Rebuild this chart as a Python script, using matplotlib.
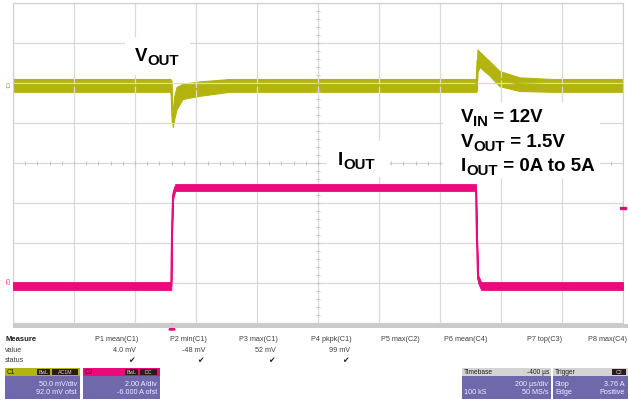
import matplotlib
matplotlib.use('Agg')
import matplotlib.pyplot as plt
from matplotlib.patches import Rectangle, Polygon
import numpy as np

plt.rcParams['font.family'] = ['Liberation Sans', 'DejaVu Sans']

W, H = 628, 402

# ---- scope settings ----
ch1_scale, ch1_ofst = 50.0, 92.0      # mV/div, mV
ch2_scale, ch2_ofst = 2.00, -6.000    # A/div, A
tb_scale = 200.0                      # us/div
t_left = -520.0                       # time at left edge of the grid (us)

# ---- Vout trace (envelope of the noisy band), time in us, mV ----
t_vout = [-520, -4, 0, 2, 4, 8, 16, 36, 92, 190, 400, 999, 1001, 1003, 1010, 1043, 1075, 1141, 1250, 1480]
vout_hi = [13, 13, 10, -20, -35, -10, 3, 7, 10, 13, 13, 13, 30, 50, 47, 35, 23, 15, 13, 13]
vout_lo = [-3, -3, -10, -40, -47, -38, -25, -12, -8, -3, -3, -3, 0, 22, 28, 17, 4, -2, -3, -3]

# ---- Iout trace, time in us, A ----
t_iout = [-520, -1, 2, 5, 12, 998, 1001, 1005, 1015, 1480]
iout_hi = [0.05, 0.05, 3.2, 4.6, 4.95, 4.95, 2.5, 0.4, 0.05, 0.05]
iout_lo = [-0.35, -0.35, 2.8, 4.2, 4.6, 4.6, 2.1, 0.0, -0.35, -0.35]

# ---- measurement table ----
meas_names = ['P1 mean(C1)', 'P2 min(C1)', 'P3 max(C1)', 'P4 pkpk(C1)',
              'P5 max(C2)', 'P6 mean(C4)', 'P7 top(C3)', 'P8 max(C4)']
meas_values = ['4.0 mV', '-48 mV', '52 mV', '99 mV', '', '', '', '']
meas_status = [True, True, True, True, False, False, False, False]
meas_right = [138, 207, 278, 352, 420, 487, 562, 627]

c1 = '#b4b410'
c2 = '#ea0a7c'
body = '#6f69ab'
grid_c = '#d9d9d9'


def fx(x):
    return x / W


def fy(y):
    return 1 - y / H


fig = plt.figure(figsize=(W / 100, H / 100), dpi=100)
fig.patch.set_facecolor('white')
renderer = fig.canvas.get_renderer()

ax = fig.add_axes([fx(13), fy(324), 610 / W, 320 / H])
ax.set_xlim(t_left, t_left + 10 * tb_scale)
ax.set_ylim(-ch1_ofst - 4 * ch1_scale, -ch1_ofst + 4 * ch1_scale)
ax.set_xticks(np.arange(t_left, t_left + 10 * tb_scale + 1, tb_scale))
ax.set_yticks(np.arange(-ch1_ofst - 4 * ch1_scale, -ch1_ofst + 4 * ch1_scale + 1, ch1_scale))
ax.grid(color=grid_c, lw=0.9)
ax.tick_params(length=0, labelleft=False, labelbottom=False)
for s in ax.spines.values():
    s.set_color('#cfcfcf')

# minor ticks on the centre lines
tc = t_left + 5 * tb_scale
xm = np.arange(t_left, t_left + 10 * tb_scale + 1, tb_scale / 5)
ax.plot(xm, np.full(len(xm), -ch1_ofst), ls='none', marker='|', ms=3, color='#c4c4c4', mew=0.8)
ym = np.arange(-ch1_ofst - 4 * ch1_scale, -ch1_ofst + 4 * ch1_scale + 1, ch1_scale / 5)
ax.plot(np.full(len(ym), tc), ym, ls='none', marker='_', ms=3, color='#c4c4c4', mew=0.8)

# Vout
ax.fill_between(t_vout, vout_lo, vout_hi, color=c1, lw=0.8, ec=c1)
ax.plot(t_vout, (np.array(vout_hi) + np.array(vout_lo)) / 2, color=c1, lw=1.5)

# Iout on its own scale
ax2 = ax.twinx()
ax2.set_ylim(-ch2_ofst - 4 * ch2_scale, -ch2_ofst + 4 * ch2_scale)
ax2.axis('off')
ax2.fill_between(t_iout, iout_lo, iout_hi, color=c2, lw=0.6, ec=c2)
ax2.plot(t_iout, (np.array(iout_hi) + np.array(iout_lo)) / 2, color=c2, lw=1.5)
ax.set_xlim(t_left, t_left + 10 * tb_scale)

# channel markers on the left, trigger markers
fig.text(fx(6), fy(86), 'C1', fontsize=4, color='#8a8a40', rotation=270, ha='center', va='center')
fig.text(fx(6), fy(281), 'C2', fontsize=4, color=c2, rotation=270, ha='center', va='center')
fig.patches.append(Polygon([[fx(169), fy(331)], [fx(175), fy(331)], [fx(172), fy(325)]],
                           closed=True, transform=fig.transFigure, color=c2))
fig.patches.append(Rectangle((fx(620), fy(210)), fx(6), 2 / H, transform=fig.transFigure, color=c2))

# annotations with white background
for x0, y0, w, h in [(125, 76, 65, 38), (327, 178, 62, 36), (443, 180, 157, 77)]:
    fig.patches.append(Rectangle((fx(x0), fy(y0)), fx(w), h / H, transform=fig.transFigure,
                                 fc='white', ec='none', zorder=2))

fs, fs_sub = 13.5, 10.8


def sub_label(x, y, main, sub, rest=''):
    # main letter, larger subscript dropped 4 px, then the rest on the baseline
    t = fig.text(fx(x), fy(y), main, fontsize=fs, weight='bold', va='baseline', zorder=3)
    x += t.get_window_extent(renderer).width
    t = fig.text(fx(x), fy(y + 4), sub, fontsize=fs_sub, weight='bold', va='baseline', zorder=3)
    x += t.get_window_extent(renderer).width
    if rest:
        fig.text(fx(x), fy(y), rest, fontsize=fs, weight='bold', va='baseline', zorder=3)


sub_label(135, 61, 'V', 'OUT')
sub_label(338, 165, 'I', 'OUT')
sub_label(461, 122, 'V', 'IN', ' = 12V')
sub_label(461, 147, 'V', 'OUT', ' = 1.5V')
sub_label(461, 171, 'I', 'OUT', ' = 0A to 5A')

# ---- bottom panel ----
fig.patches.append(Rectangle((fx(13), fy(329)), fx(615), 4 / H, transform=fig.transFigure,
                             fc='#cbcbcb', ec='none'))
small = 5.2
tcol = '#404040'
fig.text(fx(5), fy(340), 'Measure', fontsize=small + 0.3, weight='bold', color='#202020', va='center')
fig.text(fx(5), fy(351), 'value', fontsize=small, color=tcol, va='center')
fig.text(fx(5), fy(361), 'status', fontsize=small, color=tcol, va='center')
for name, val, ok, xr in zip(meas_names, meas_values, meas_status, meas_right):
    fig.text(fx(xr), fy(340), name, fontsize=small, color=tcol, ha='right', va='center')
    if val:
        fig.text(fx(xr - 2), fy(351), val, fontsize=small, color=tcol, ha='right', va='center')
    if ok:
        fig.text(fx(xr - 3), fy(361), '\u2714', fontsize=small + 0.5, color='#202020', ha='right',
                 va='center', family='DejaVu Sans')


def info_box(x0, x1, head_col, head_left, head_right, lines, tags=(), tag_col='#2a1a1a'):
    fig.patches.append(Rectangle((fx(x0), fy(400)), fx(x1 - x0), 31 / H, transform=fig.transFigure,
                                 fc=body, ec='none'))
    fig.patches.append(Rectangle((fx(x0), fy(377)), fx(x1 - x0), 8 / H, transform=fig.transFigure,
                                 fc=head_col, ec='none'))
    fig.text(fx(x0 + 2), fy(373), head_left, fontsize=small - 0.4, color='#202020', va='center')
    if head_right:
        fig.text(fx(x1 - 2), fy(373), head_right, fontsize=small - 0.4, color='#202020', va='center', ha='right')
    for tx0, tx1, lab in tags:
        fig.patches.append(Rectangle((fx(tx0), fy(376)), fx(tx1 - tx0), 6 / H, transform=fig.transFigure,
                                     fc=tag_col, ec='none'))
        fig.text(fx((tx0 + tx1) / 2), fy(373), lab, fontsize=small - 1.4, color='#d8d8d8',
                 va='center', ha='center')
    for yy, left, right in lines:
        if left:
            fig.text(fx(x0 + 2), fy(yy), left, fontsize=small, color='#eeeeff', va='center')
        if right:
            fig.text(fx(x1 - 3), fy(yy), right, fontsize=small, color='#eeeeff', va='center', ha='right')


info_box(5, 80, c1, 'C1', '', [(385, '', '50.0 mV/div'), (393, '', '92.0 mV ofst')],
         tags=[(37, 50, 'BwL'), (52, 78, 'AC1M')])
info_box(83, 160, c2, 'C2', '', [(385, '', '2.00 A/div'), (393, '', '-6.000 A ofst')],
         tags=[(125, 138, 'BwL'), (140, 157, 'DC')])
info_box(462, 551, '#d4d4d4', 'Timebase', '-400 \u00b5s',
         [(385, '', '200 \u00b5s/div'), (393, '100 kS', '50 MS/s')])
info_box(553, 628, '#d4d4d4', 'Trigger', '',
         [(385, 'Stop', '3.76 A'), (393, 'Edge', 'Positive')],
         tags=[(612, 626, 'C2')])

fig.savefig('out.png', dpi=100)
